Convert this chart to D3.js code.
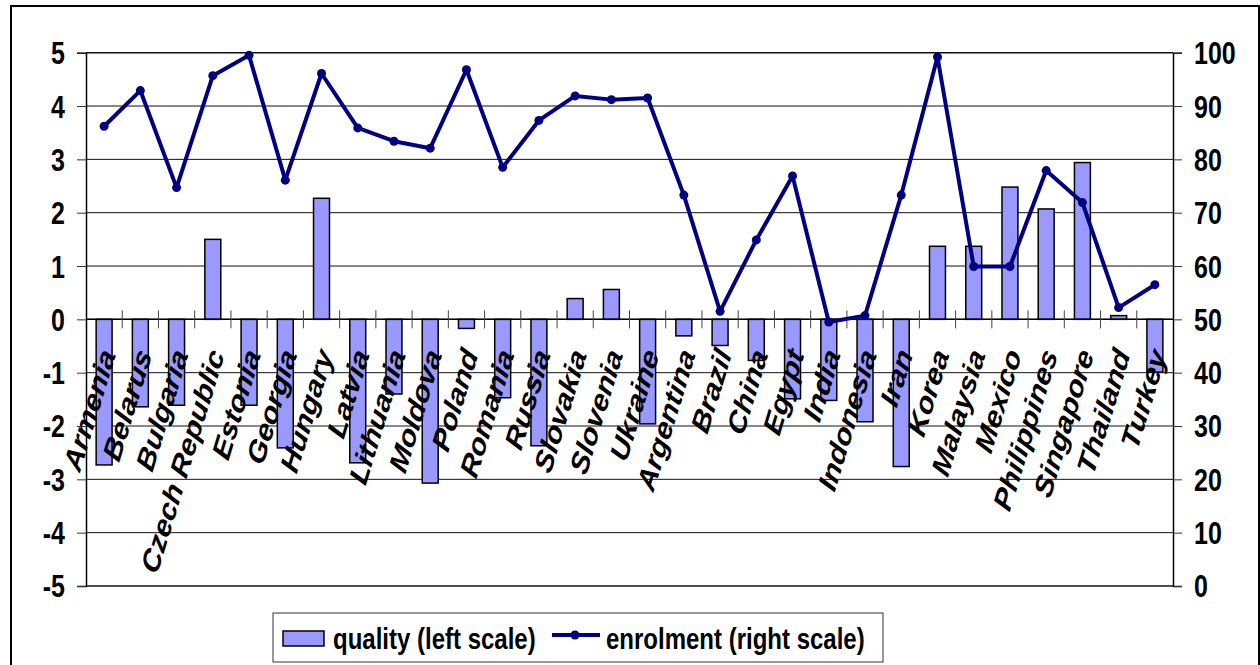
<!DOCTYPE html>
<html>
<head>
<meta charset="utf-8">
<script src="https://cdn.jsdelivr.net/npm/d3@7"></script>
<style>
  html, body { margin: 0; padding: 0; background: #fff; }
  svg { display: block; font-family: "Liberation Sans", Arial, sans-serif; }
</style>
</head>
<body>
<svg id="chart" width="1260" height="665"></svg>
<script>
// Countries along the category axis
const countries = ["Armenia", "Belarus", "Bulgaria", "Czech Republic", "Estonia", "Georgia",
  "Hungary", "Latvia", "Lithuania", "Moldova", "Poland", "Romania", "Russia", "Slovakia",
  "Slovenia", "Ukraine", "Argentina", "Brazil", "China", "Egypt", "India", "Indonesia",
  "Iran", "Korea", "Malaysia", "Mexico", "Philippines", "Singapore", "Thailand", "Turkey"];

// Education quality index (left scale)
const quality = [-2.73, -1.64, -1.61, 1.50, -1.61, -2.41, 2.27, -2.69, -1.40, -3.07,
  -0.17, -1.47, -2.37, 0.39, 0.56, -1.96, -0.31, -0.49, -0.77, -1.49, -1.52, -1.92,
  -2.76, 1.37, 1.37, 2.48, 2.07, 2.94, 0.07, -0.99];

// Enrolment rate, % (right scale)
const enrolment = [86.2, 92.9, 74.7, 95.7, 99.5, 76.1, 96.1, 85.9, 83.4, 82.1,
  96.8, 78.5, 87.3, 91.9, 91.2, 91.5, 73.3, 51.5, 64.9, 76.9, 49.5, 50.7,
  73.3, 99.2, 59.9, 59.9, 77.9, 71.9, 52.2, 56.5];

const leftTicks = [-5, -4, -3, -2, -1, 0, 1, 2, 3, 4, 5];
const rightTicks = [0, 10, 20, 30, 40, 50, 60, 70, 80, 90, 100];
const legendLabels = ["quality (left scale)", "enrolment (right scale)"];

const svg = d3.select("#chart");
const TEXT_STRETCH = 1.22;   // glyphs are drawn a little taller than wide
const barFill = "#9999FF";
const lineColor = "#000080";

const plot = { left: 86, right: 1173, top: 52.7, bottom: 586 };

const x = d3.scaleBand().domain(countries)
  .range([plot.left, plot.right]).paddingInner(0.56).paddingOuter(0.28);
const yL = d3.scaleLinear().domain([-5, 5]).range([plot.bottom, plot.top]);
const yR = d3.scaleLinear().domain([0, 100]).range([plot.bottom, plot.top]);
const cx = c => x(c) + x.bandwidth() / 2;

// outer frame
svg.append("rect").attr("x", 11).attr("y", 6).attr("width", 1248).attr("height", 670)
  .attr("fill", "none").attr("stroke", "#000").attr("stroke-width", 2);

// horizontal gridlines
svg.append("g").selectAll("line").data(leftTicks).join("line")
  .attr("x1", plot.left).attr("x2", plot.right)
  .attr("y1", d => yL(d)).attr("y2", d => yL(d))
  .attr("stroke", "#111").attr("stroke-width", d => (d === 5 || d === -5) ? 1.6 : 1);

// left axis
const gL = svg.append("g").attr("transform", `translate(${plot.left},0)`)
  .call(d3.axisLeft(yL).tickValues(leftTicks).tickSize(9).tickPadding(12).tickFormat(d3.format("d")));
// right axis
const gR = svg.append("g").attr("transform", `translate(${plot.right},0)`)
  .call(d3.axisRight(yR).tickValues(rightTicks).tickSize(9).tickPadding(12).tickFormat(d3.format("d")));

[gL, gR].forEach(g => {
  g.select(".domain").attr("stroke", "#000").attr("stroke-width", 1.5);
  g.selectAll(".tick line").attr("stroke", "#333").attr("stroke-width", 1);
  g.selectAll(".tick text")
    .attr("font-size", 25).attr("font-weight", "bold").attr("fill", "#000")
    .attr("dy", "0.36em")
    .attr("transform", `scale(1,${TEXT_STRETCH})`);
});
gL.selectAll(".tick text").text(d => d < 0 ? "-" + Math.abs(d) : d);

// bars
svg.append("g").selectAll("rect").data(countries).join("rect")
  .attr("x", d => x(d))
  .attr("width", x.bandwidth())
  .attr("y", (d, i) => Math.min(yL(quality[i]), yL(0)))
  .attr("height", (d, i) => Math.abs(yL(quality[i]) - yL(0)))
  .attr("fill", barFill).attr("stroke", "#000").attr("stroke-width", 1.5);

// zero line and category ticks
svg.append("line").attr("x1", plot.left).attr("x2", plot.right)
  .attr("y1", yL(0)).attr("y2", yL(0)).attr("stroke", "#000").attr("stroke-width", 1.5);
const step = x.step();
svg.append("g").selectAll("line").data(countries.slice(1)).join("line")
  .attr("x1", d => x(d) - step * x.paddingInner() / 2)
  .attr("x2", d => x(d) - step * x.paddingInner() / 2)
  .attr("y1", yL(0) - 9).attr("y2", yL(0) + 9)
  .attr("stroke", "#444").attr("stroke-width", 1);

// category labels, rotated
svg.append("g").selectAll("text").data(countries).join("text")
  .attr("transform", d => `translate(${cx(d) + 12},${yL(0) + 35}) scale(1,${TEXT_STRETCH}) rotate(-69.5)`)
  .attr("text-anchor", "end")
  .attr("font-size", 26).attr("font-weight", "bold").attr("font-style", "italic")
  .attr("fill", "#000")
  .text(d => d);

// enrolment line
const line = d3.line().x((d, i) => cx(countries[i])).y(d => yR(d));
svg.append("path").datum(enrolment).attr("d", line)
  .attr("fill", "none").attr("stroke", lineColor).attr("stroke-width", 4)
  .attr("stroke-linejoin", "round");
svg.append("g").selectAll("circle").data(enrolment).join("circle")
  .attr("cx", (d, i) => cx(countries[i])).attr("cy", d => yR(d)).attr("r", 4.5)
  .attr("fill", lineColor);

// legend
const lg = svg.append("g");
lg.append("rect").attr("x", 273).attr("y", 613).attr("width", 610).attr("height", 49)
  .attr("fill", "#fff").attr("stroke", "#333").attr("stroke-width", 1);
lg.append("rect").attr("x", 283).attr("y", 631).attr("width", 41).attr("height", 15)
  .attr("fill", barFill).attr("stroke", "#000").attr("stroke-width", 1.5);
lg.append("text").attr("transform", `translate(333,638) scale(1,${TEXT_STRETCH})`)
  .attr("dy", "0.36em").attr("font-size", 24).attr("font-weight", "bold").text(legendLabels[0]);
lg.append("line").attr("x1", 552).attr("x2", 600).attr("y1", 635).attr("y2", 635)
  .attr("stroke", lineColor).attr("stroke-width", 4);
lg.append("circle").attr("cx", 575).attr("cy", 635).attr("r", 4.5).attr("fill", lineColor);
lg.append("text").attr("transform", `translate(606,638) scale(1,${TEXT_STRETCH})`)
  .attr("dy", "0.36em").attr("font-size", 24).attr("font-weight", "bold").text(legendLabels[1]);
</script>
</body>
</html>
